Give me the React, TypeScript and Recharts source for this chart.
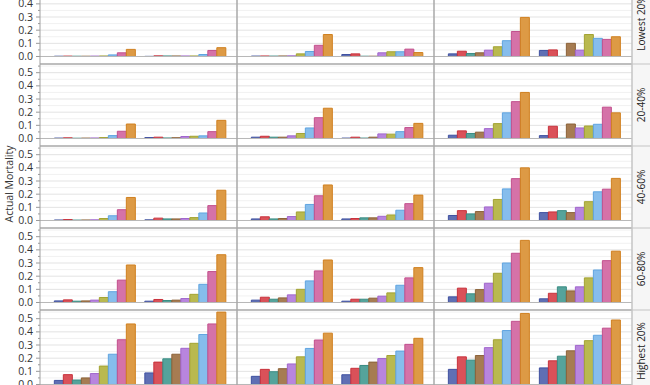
import { BarChart, Bar, XAxis, YAxis, CartesianGrid, ReferenceLine } from "recharts";

const rowLabels = ["Lowest 20%", "20-40%", "40-60%", "60-80%", "Highest 20%"];
const groupNames = ["Group 1", "Group 2"];
const seriesNames = ["s1", "s2", "s3", "s4", "s5", "s6", "s7", "s8", "s9"];
const fills = ["#5f6fb4", "#da5159", "#55a39b", "#a67c52", "#b885de", "#b9b94f", "#86bdec", "#d572a8", "#dd9a45"];
const strokes = ["#3f51a0", "#c8323c", "#3a8c83", "#8c6238", "#a066cc", "#a3a332", "#5fa4e0", "#c2508d", "#d08020"];
const majorTicks = [0.1, 0.2, 0.3, 0.4, 0.5];
const minorTicks = [0.05, 0.15, 0.25, 0.35, 0.45, 0.55];
const axisTicks = [0, 0.05, 0.1, 0.15, 0.2, 0.25, 0.3, 0.35, 0.4, 0.45, 0.5, 0.55];
// top row is cropped above 0.4
const topRowTicks = [0, 0.05, 0.1, 0.15, 0.2, 0.25, 0.3, 0.35, 0.4];

// each row: [column][group][series]
const lowest20 = [
  [[0.002, 0.003, 0.002, 0.002, 0.003, 0.004, 0.012, 0.028, 0.054], [0.001, 0.005, 0.004, 0.004, 0.004, 0.004, 0.015, 0.046, 0.067]],
  [[0.003, 0.004, 0.003, 0.004, 0.005, 0.02, 0.038, 0.085, 0.167], [0.015, 0.02, 0.002, 0.002, 0.028, 0.036, 0.036, 0.056, 0.03]],
  [[0.02, 0.04, 0.023, 0.028, 0.048, 0.074, 0.12, 0.19, 0.297], [0.046, 0.05, 0.001, 0.1, 0.048, 0.167, 0.138, 0.13, 0.15]],
];
const pct20to40 = [
  [[0.003, 0.005, 0.002, 0.003, 0.004, 0.007, 0.022, 0.055, 0.11], [0.007, 0.01, 0.004, 0.006, 0.015, 0.017, 0.02, 0.052, 0.138]],
  [[0.01, 0.017, 0.01, 0.01, 0.02, 0.038, 0.08, 0.158, 0.23], [0.003, 0.01, 0.003, 0.01, 0.035, 0.033, 0.052, 0.083, 0.115]],
  [[0.025, 0.058, 0.038, 0.048, 0.075, 0.113, 0.195, 0.28, 0.35], [0.022, 0.093, 0.002, 0.11, 0.08, 0.095, 0.108, 0.238, 0.195]],
];
const pct40to60 = [
  [[0.004, 0.007, 0.003, 0.004, 0.005, 0.015, 0.036, 0.082, 0.175], [0.005, 0.018, 0.012, 0.012, 0.015, 0.022, 0.057, 0.113, 0.23]],
  [[0.012, 0.028, 0.012, 0.015, 0.03, 0.065, 0.122, 0.188, 0.27], [0.012, 0.015, 0.02, 0.02, 0.032, 0.042, 0.078, 0.128, 0.193]],
  [[0.038, 0.075, 0.05, 0.068, 0.103, 0.16, 0.24, 0.318, 0.4], [0.06, 0.065, 0.075, 0.06, 0.1, 0.143, 0.218, 0.238, 0.32]],
];
const pct60to80 = [
  [[0.012, 0.02, 0.01, 0.012, 0.018, 0.038, 0.082, 0.17, 0.285], [0.01, 0.023, 0.015, 0.018, 0.03, 0.062, 0.138, 0.235, 0.363]],
  [[0.018, 0.04, 0.025, 0.035, 0.058, 0.1, 0.164, 0.24, 0.323], [0.01, 0.025, 0.025, 0.033, 0.048, 0.073, 0.131, 0.187, 0.265]],
  [[0.043, 0.109, 0.066, 0.098, 0.146, 0.222, 0.3, 0.374, 0.472], [0.028, 0.07, 0.119, 0.088, 0.119, 0.187, 0.247, 0.318, 0.39]],
];
const highest20 = [
  [[0.031, 0.075, 0.034, 0.05, 0.083, 0.14, 0.23, 0.34, 0.46], [0.088, 0.17, 0.195, 0.23, 0.275, 0.313, 0.38, 0.46, 0.55]],
  [[0.062, 0.115, 0.097, 0.12, 0.156, 0.21, 0.274, 0.338, 0.39], [0.074, 0.123, 0.144, 0.17, 0.197, 0.22, 0.254, 0.305, 0.351]],
  [[0.115, 0.21, 0.185, 0.22, 0.28, 0.34, 0.41, 0.48, 0.54], [0.126, 0.18, 0.215, 0.256, 0.297, 0.333, 0.374, 0.428, 0.49]],
];
const rows = [lowest20, pct20to40, pct40to60, pct60to80, highest20];

// layout
const colX = [0, 237, 434];
const colW = [237, 197, 198];
const rowTop = [-18, 64, 146, 228, 310];
const panelH = 82;

// eslint-disable-next-line @typescript-eslint/no-explicit-any
function YTick({ x, y, payload }: any) {
  const v = payload.value as number;
  const major = Math.round(v * 100) % 10 === 0;
  return (
    <g>
      <line x1={x - (major ? 4 : 2)} x2={x} y1={y} y2={y} stroke="#9a9a9a" />
      {major && (
        <text x={x - 7} y={y} dy={3.6} textAnchor="end" fontSize={10.5} fill="#333">
          {v.toFixed(1)}
        </text>
      )}
    </g>
  );
}

function Panel({ values, showAxis, width, ticks }: { values: number[][]; showAxis: boolean; width: number; ticks: number[] }) {
  const data = groupNames.map((g, gi) => {
    const row: Record<string, number | string> = { group: g };
    seriesNames.forEach((s, si) => {
      row[s] = values[gi][si];
    });
    return row;
  });
  return (
    <BarChart
      width={width}
      height={panelH}
      data={data}
      margin={{ top: 0, right: 0, bottom: 0, left: 0 }}
      barCategoryGap="7%"
      barGap={0}
    >
      <CartesianGrid vertical={false} horizontalValues={minorTicks} stroke="#f1f1f1" />
      <CartesianGrid vertical={false} horizontalValues={majorTicks} stroke="#e3e3e3" />
      <XAxis dataKey="group" hide padding={{ left: 8, right: 8 }} />
      <YAxis
        hide={!showAxis}
        width={40}
        type="number"
        domain={[-0.057, 0.566]}
        allowDataOverflow
        ticks={ticks}
        interval={0}
        tick={<YTick />}
        tickLine={false}
        axisLine={false}
        tickSize={0}
        tickMargin={0}
      />
      <ReferenceLine y={0} stroke="#b8b8b8" />
      {seriesNames.map((s, i) => (
        <Bar key={s} dataKey={s} fill={fills[i]} stroke={strokes[i]} strokeWidth={1} isAnimationActive={false} />
      ))}
    </BarChart>
  );
}

export default function App() {
  return (
    <div
      style={{
        position: "absolute",
        left: 0,
        top: 0,
        width: 650,
        height: 385,
        overflow: "hidden",
        background: "#fff",
        fontFamily: "'Open Sans', sans-serif",
      }}
    >
      {rows.map((row, r) =>
        row.map((vals, c) => (
          <div key={`${r}-${c}`} style={{ position: "absolute", left: colX[c], top: rowTop[r] }}>
            <Panel values={vals} showAxis={c === 0} width={colW[c]} ticks={r === 0 ? topRowTicks : axisTicks} />
          </div>
        ))
      )}
      <div style={{ position: "absolute", left: 632, top: 0, width: 18, height: 385, background: "#f6f6f6" }} />
      <svg width={650} height={385} style={{ position: "absolute", left: 0, top: 0, pointerEvents: "none" }}>
        {rowTop.slice(1).map((t) => (
          <g key={t}>
            <line x1={40} x2={632} y1={t} y2={t} stroke="#a8a8a8" strokeWidth={1.5} />
            <line x1={632} x2={650} y1={t} y2={t} stroke="#d4d4d4" strokeWidth={1.5} />
          </g>
        ))}
        <line x1={40} x2={40} y1={0} y2={385} stroke="#a0a0a0" strokeWidth={1} />
        <line x1={237} x2={237} y1={0} y2={385} stroke="#a8a8a8" strokeWidth={1.5} />
        <line x1={434} x2={434} y1={0} y2={385} stroke="#a8a8a8" strokeWidth={1.5} />
        <line x1={632} x2={632} y1={0} y2={385} stroke="#c4c4c4" strokeWidth={1.5} />
        <text
          x={9}
          y={184}
          transform="rotate(-90 9 184)"
          textAnchor="middle"
          dominantBaseline="central"
          fontSize={10.5}
          fill="#333"
        >
          Actual Mortality
        </text>
        {rowLabels.map((label, r) => {
          const cy = rowTop[r] + panelH / 2;
          return (
            <text
              key={label}
              x={641}
              y={cy}
              transform={`rotate(-90 641 ${cy})`}
              textAnchor="middle"
              dominantBaseline="central"
              fontSize={10}
              fill="#222"
            >
              {label}
            </text>
          );
        })}
      </svg>
    </div>
  );
}
